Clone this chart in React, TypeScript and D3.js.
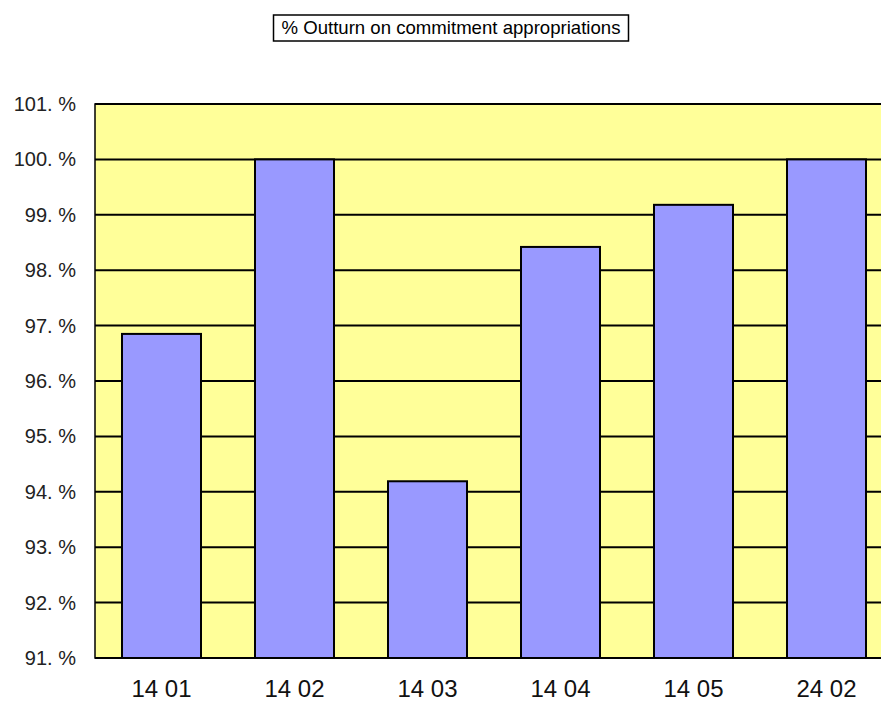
import { useEffect, useRef } from "react";
import * as d3 from "d3";

const categories = ["14 01", "14 02", "14 03", "14 04", "14 05", "24 02"];
const values = [96.85, 100.0, 94.19, 98.42, 99.18, 100.0];
const yTicks = [91, 92, 93, 94, 95, 96, 97, 98, 99, 100, 101];
const title = "% Outturn on commitment appropriations";

const App = () => {
  const svgRef = useRef<SVGSVGElement>(null);

  useEffect(() => {
    const svg = d3.select(svgRef.current);
    const width = 881;
    const height = 702;
    const margin = { top: 104, right: -12, bottom: 44, left: 95 };

    svg.selectAll("*").remove();

    const x = d3
      .scaleBand()
      .domain(categories)
      .range([margin.left, width - margin.right])
      .paddingInner(54 / 133)
      .paddingOuter(27 / 133);

    const y = d3
      .scaleLinear()
      .domain([91, 101])
      .range([height - margin.bottom, margin.top]);

    // fundo
    svg
      .append("rect")
      .attr("x", margin.left)
      .attr("y", margin.top)
      .attr("width", width - margin.right - margin.left)
      .attr("height", y(91) - y(101))
      .attr("fill", "#FFFF99")
      .attr("stroke", "#000")
      .attr("stroke-width", 1.5);

    // grade
    svg
      .append("g")
      .selectAll("line")
      .data(yTicks)
      .enter()
      .append("line")
      .attr("x1", margin.left)
      .attr("x2", width - margin.right)
      .attr("y1", (d) => y(d))
      .attr("y2", (d) => y(d))
      .attr("stroke", "#000")
      .attr("stroke-width", 2);

    // barras
    svg
      .append("g")
      .selectAll("rect")
      .data(values)
      .enter()
      .append("rect")
      .attr("x", (_, i) => x(categories[i])!)
      .attr("y", (d) => y(d))
      .attr("width", x.bandwidth())
      .attr("height", (d) => y(91) - y(d))
      .attr("fill", "#9999FF")
      .attr("stroke", "#000")
      .attr("stroke-width", 2);

    // rótulos do eixo y
    svg
      .append("g")
      .selectAll("text")
      .data(yTicks)
      .enter()
      .append("text")
      .attr("x", 76)
      .attr("y", (d) => y(d))
      .attr("dy", "0.35em")
      .attr("text-anchor", "end")
      .attr("font-family", "Liberation Sans, Arial, sans-serif")
      .attr("font-size", 20)
      .attr("fill", "#222")
      .text((d) => `${d}. %`);

    // rótulos do eixo x
    svg
      .append("g")
      .selectAll("text")
      .data(categories)
      .enter()
      .append("text")
      .attr("x", (d) => x(d)! + x.bandwidth() / 2)
      .attr("y", 697)
      .attr("text-anchor", "middle")
      .attr("font-family", "Liberation Sans, Arial, sans-serif")
      .attr("font-size", 24)
      .attr("fill", "#111")
      .text((d) => d);

    // título
    const tg = svg.append("g");
    const t = tg
      .append("text")
      .attr("x", 451)
      .attr("y", 34)
      .attr("text-anchor", "middle")
      .attr("font-family", "Liberation Sans, Arial, sans-serif")
      .attr("font-size", 18.6)
      .attr("fill", "#000")
      .text(title);
    const bb = (t.node() as SVGTextElement).getBBox();
    tg.insert("rect", "text")
      .attr("x", bb.x - 8)
      .attr("y", 15)
      .attr("width", bb.width + 16)
      .attr("height", 26)
      .attr("fill", "#fff")
      .attr("stroke", "#000")
      .attr("stroke-width", 1.5);
  }, []);

  return (
    <svg
      ref={svgRef}
      width={881}
      height={702}
      style={{ position: "absolute", left: 0, top: 0 }}
    ></svg>
  );
};

export default App;
